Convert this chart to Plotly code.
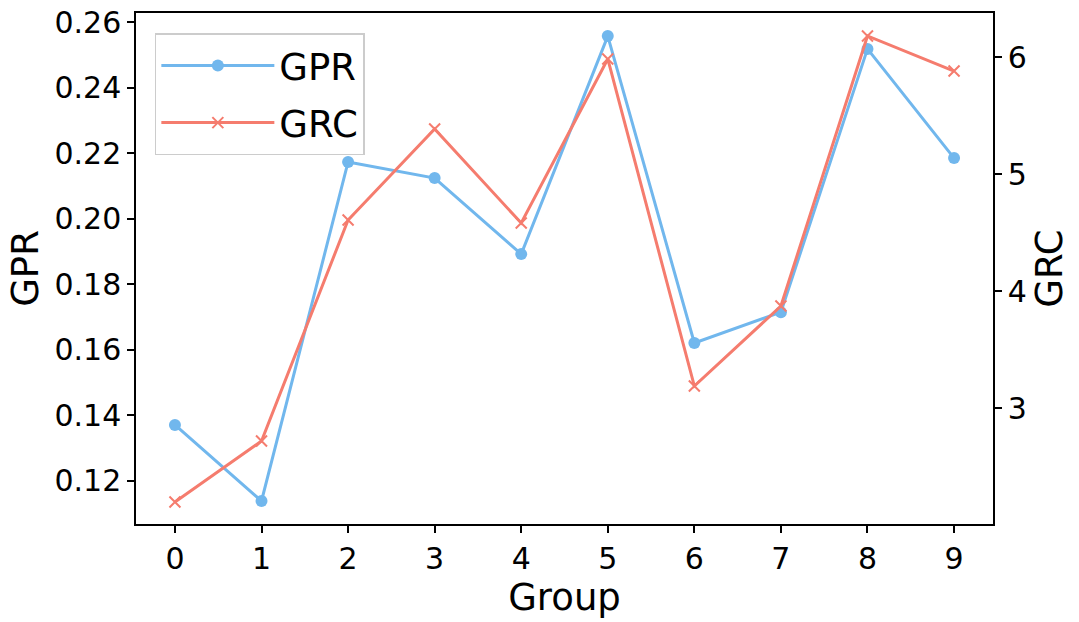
import plotly.graph_objects as go

groups = [0, 1, 2, 3, 4, 5, 6, 7, 8, 9]
gpr = [0.1371, 0.1139, 0.2173, 0.2124, 0.1892, 0.2557, 0.1621, 0.1715, 0.2518, 0.2185]
grc = [2.197, 2.718, 4.607, 5.385, 4.581, 5.983, 3.188, 3.872, 6.180, 5.880]
gpr_ticks = [0.12, 0.14, 0.16, 0.18, 0.20, 0.22, 0.24, 0.26]
grc_ticks = [3, 4, 5, 6]

BLUE = "#71b7ed"
RED = "#f57c6e"
FONT = "DejaVu Sans"

fig = go.Figure()
fig.add_trace(go.Scatter(
    x=groups, y=gpr, name="GPR", mode="lines+markers", legendgroup="a",
    line=dict(color=BLUE, width=3),
    marker=dict(symbol="circle", size=12, color=BLUE),
    yaxis="y"))
fig.add_trace(go.Scatter(
    x=groups, y=grc, name="GRC", mode="lines+markers", legendgroup="b",
    line=dict(color=RED, width=3),
    marker=dict(symbol="x-thin", size=11, color=RED, line=dict(color=RED, width=2)),
    yaxis="y2"))

fig.update_layout(
    width=1079, height=622,
    margin=dict(l=136, r=86, t=13, b=98, autoexpand=False),
    paper_bgcolor="white", plot_bgcolor="white",
    font=dict(family=FONT, size=30, color="black"),
    showlegend=True,
    legend=dict(x=0.022, y=0.96, xanchor="left", yanchor="top",
                bgcolor="white", bordercolor="#cccccc", borderwidth=1.5,
                font=dict(size=37, family=FONT), itemwidth=113,
                tracegroupgap=6),
    xaxis=dict(
        range=[-0.45, 9.45], tickmode="array", tickvals=groups,
        ticktext=[str(g) for g in groups],
        showgrid=False, zeroline=False,
        showline=True, linecolor="black", linewidth=1.5, mirror=True,
        ticks="outside", ticklen=7, tickwidth=1.5, tickcolor="black",
        title=dict(text="Group", font=dict(size=37), standoff=5),
        tickfont=dict(size=30)),
    yaxis=dict(
        range=[0.10688, 0.26275], tickmode="array", tickvals=gpr_ticks,
        ticktext=[f"{t:.2f}" for t in gpr_ticks],
        showgrid=False, zeroline=False,
        showline=True, linecolor="black", linewidth=1.5,
        ticks="outside", ticklen=7, tickwidth=1.5, tickcolor="black",
        title=dict(text="GPR", font=dict(size=37), standoff=5),
        tickfont=dict(size=30)),
    yaxis2=dict(
        range=[2.009, 6.376], tickmode="array", tickvals=grc_ticks,
        ticktext=[str(t) for t in grc_ticks],
        overlaying="y", side="right",
        showgrid=False, zeroline=False,
        showline=True, linecolor="black", linewidth=1.5,
        ticks="outside", ticklen=7, tickwidth=1.5, tickcolor="black",
        title=dict(text="GRC", font=dict(size=37), standoff=10),
        tickfont=dict(size=30)),
)

fig.write_html("out.html", config={"displayModeBar": False},
               post_script="document.body.style.margin='0';")
